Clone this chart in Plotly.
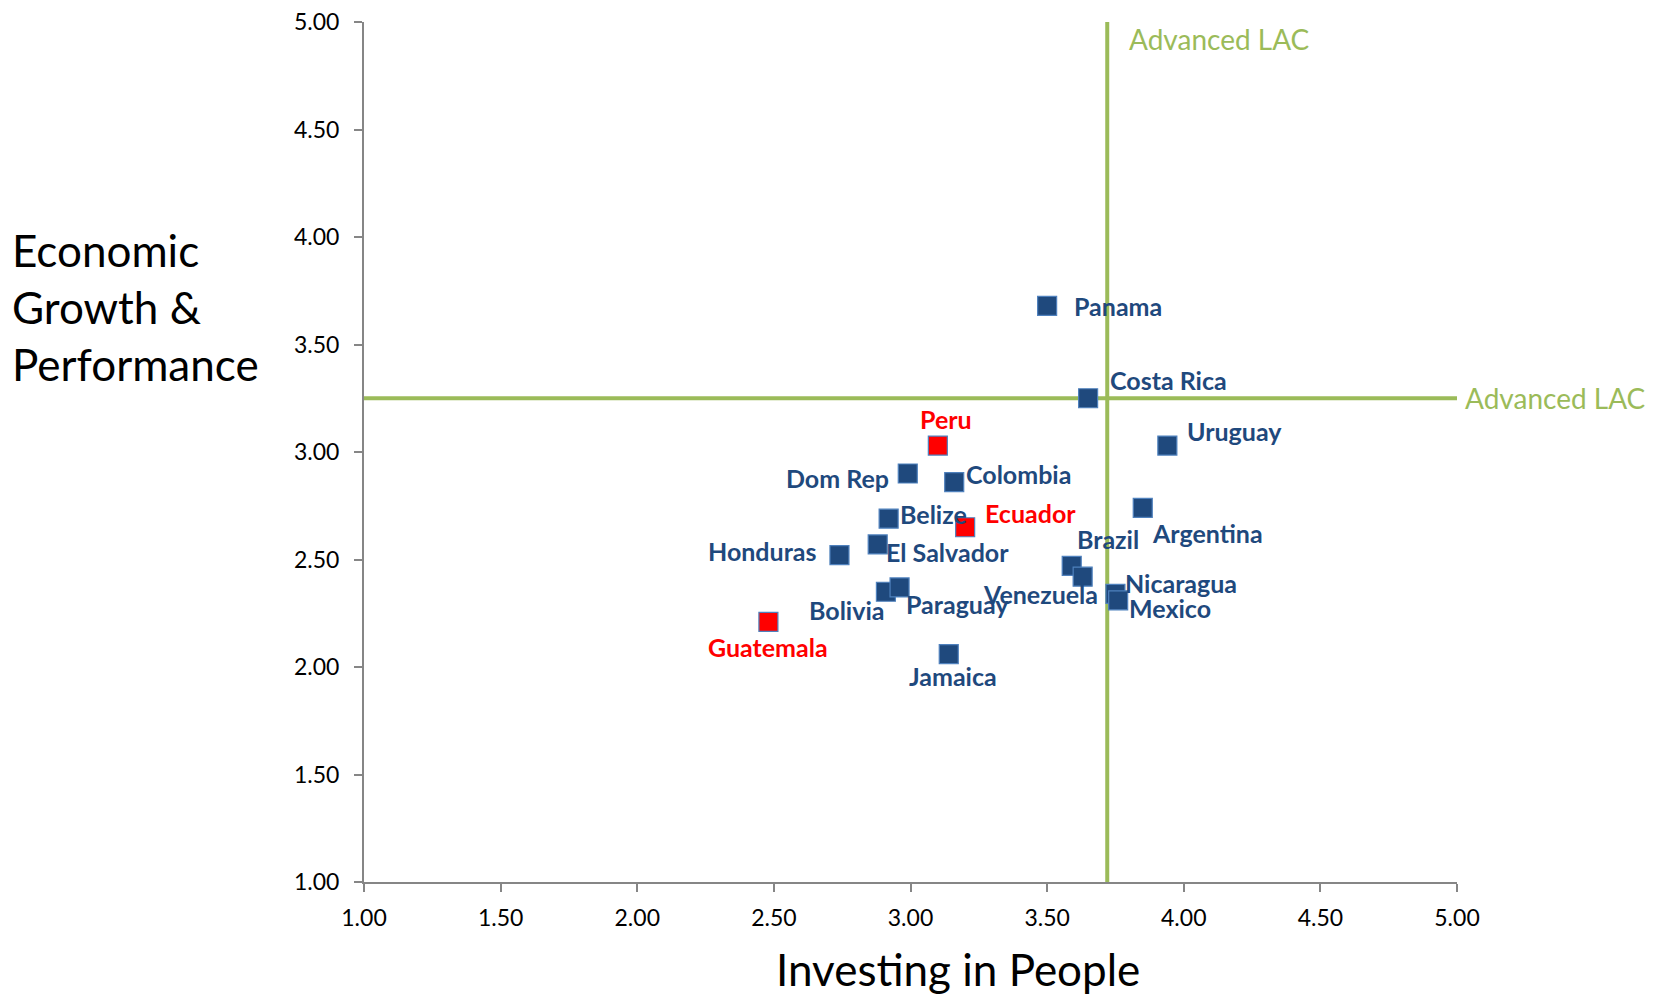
import plotly.graph_objects as go

countries = ["Panama", "Costa Rica", "Uruguay", "Argentina", "Brazil", "Venezuela",
             "Nicaragua", "Mexico", "Peru", "Dom Rep", "Colombia", "Belize", "Ecuador",
             "El Salvador", "Honduras", "Bolivia", "Paraguay", "Guatemala", "Jamaica"]
investing = [3.50, 3.65, 3.94, 3.85, 3.59, 3.63, 3.75, 3.76, 3.10, 2.99, 3.16, 2.92,
             3.20, 2.88, 2.74, 2.91, 2.96, 2.48, 3.14]
growth = [3.68, 3.25, 3.03, 2.74, 2.47, 2.42, 2.34, 2.31, 3.03, 2.90, 2.86, 2.69,
          2.65, 2.57, 2.52, 2.35, 2.37, 2.21, 2.06]
highlight = ["Peru", "Ecuador", "Guatemala"]

adv_x = 3.72
adv_y = 3.25
line_label = "Advanced LAC"
x_ticks = [1.0, 1.5, 2.0, 2.5, 3.0, 3.5, 4.0, 4.5, 5.0]
y_ticks = [1.0, 1.5, 2.0, 2.5, 3.0, 3.5, 4.0, 4.5, 5.0]

# label placement: (xanchor, xshift, yshift) in pixels
label_pos = {
    "Panama": ("left", 25, 0),
    "Costa Rica": ("left", 20, 18),
    "Uruguay": ("left", 18, 15),
    "Argentina": ("left", 7, -25),
    "Brazil": ("left", 3, 27),
    "Venezuela": ("right", 17, -17),
    "Nicaragua": ("left", 8, 11),
    "Mexico": ("left", 9, -8),
    "Peru": ("center", 8, 27),
    "Dom Rep": ("right", -17, -4),
    "Colombia": ("left", 10, 8),
    "Belize": ("left", 9, 5),
    "Ecuador": ("left", 18, 14),
    "El Salvador": ("left", 6, -8),
    "Honduras": ("right", -21, 4),
    "Bolivia": ("right", 0, -18),
    "Paraguay": ("left", 4, -17),
    "Guatemala": ("center", 0, -25),
    "Jamaica": ("center", 4, -22),
}

BLUE = "#1F497D"
RED = "#FF0000"
GREEN = "#9BBB59"
FONT = "Lato"

W, H = 1653, 994
plot_l, plot_r, plot_t, plot_b = 356, 1449, 14, 874

fig = go.Figure()

# reference lines
fig.add_trace(go.Scatter(x=[adv_x, adv_x], y=[y_ticks[0], y_ticks[-1]], mode="lines",
                         line=dict(color=GREEN, width=4), hoverinfo="skip", showlegend=False))
fig.add_trace(go.Scatter(x=[x_ticks[0], x_ticks[-1]], y=[adv_y, adv_y], mode="lines",
                         line=dict(color=GREEN, width=4), hoverinfo="skip", showlegend=False))

colors = [RED if c in highlight else BLUE for c in countries]
fig.add_trace(go.Scatter(
    x=investing, y=growth, mode="markers", text=countries, showlegend=False,
    marker=dict(symbol="square", size=19, color=colors,
                line=dict(color="#4F81BD", width=1.2)),
))

annotations = []
for c, xv, yv, col in zip(countries, investing, growth, colors):
    xa, xs, ys = label_pos[c]
    annotations.append(dict(x=xv, y=yv, xref="x", yref="y", text=c, showarrow=False,
                            xanchor=xa, yanchor="middle", xshift=xs, yshift=ys,
                            font=dict(family=FONT, size=25, color=col, weight="bold")))

annotations.append(dict(x=adv_x, y=y_ticks[-1], xref="x", yref="y", text=line_label,
                        showarrow=False, xanchor="left", yanchor="middle", xshift=20, yshift=-17,
                        font=dict(family=FONT, size=28, color=GREEN)))
annotations.append(dict(x=x_ticks[-1], y=adv_y, xref="x", yref="y", text=line_label,
                        showarrow=False, xanchor="left", yanchor="middle", xshift=6, yshift=0,
                        font=dict(family=FONT, size=28, color=GREEN)))

axis_common = dict(range=[1, 5], tickformat=".2f", showgrid=False, zeroline=False,
                   showline=True, linecolor="#868686", linewidth=2, ticks="outside",
                   ticklen=8, tickcolor="#868686", tickwidth=1.5,
                   ticklabeloverflow="allow", automargin=False,
                   tickfont=dict(family=FONT, size=23, color="black"))

fig.update_layout(
    width=W, height=H,
    margin=dict(l=plot_l, r=W - plot_r, t=plot_t, b=H - plot_b, autoexpand=False),
    plot_bgcolor="white", paper_bgcolor="white",
    font=dict(family=FONT, color="black"),
    xaxis=dict(tickvals=x_ticks, ticklabelstandoff=6, **axis_common),
    yaxis=dict(tickvals=y_ticks, ticklabelstandoff=10, **axis_common),
)

def px_to_paper_x(px):
    return (px - plot_l) / (plot_r - plot_l)
def py_to_paper_y(py):
    return (plot_b - py) / (plot_b - plot_t)

annotations.append(dict(x=px_to_paper_x(950), y=py_to_paper_y(961), xref="paper", yref="paper",
                        text="Investing in People", showarrow=False, xanchor="center",
                        yanchor="middle", font=dict(family=FONT, size=44, color="black")))
annotations.append(dict(x=px_to_paper_x(2), y=py_to_paper_y(299), xref="paper", yref="paper",
                        text="Economic<br>Growth &amp;<br>Performance", showarrow=False,
                        xanchor="left", yanchor="middle", align="left",
                        font=dict(family=FONT, size=44, color="black")))

fig.update_layout(annotations=annotations)
fig.write_html("out.html")
